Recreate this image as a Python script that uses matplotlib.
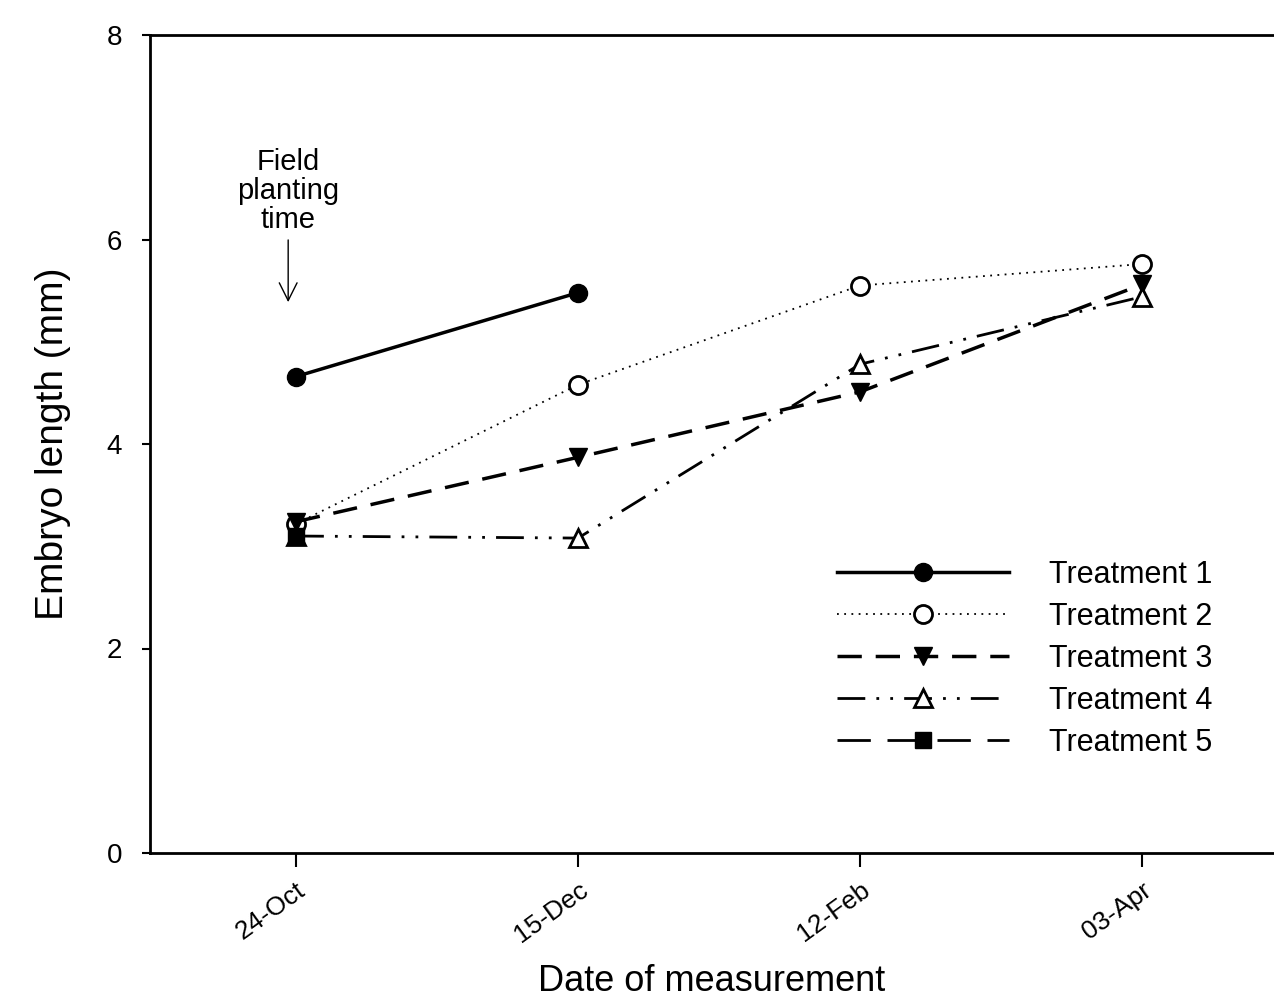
import numpy as np
import matplotlib
matplotlib.use('Agg')
import matplotlib.pyplot as plt

plt.rcParams['font.family'] = ['Liberation Sans', 'DejaVu Sans']

# measurement dates
dates = ['24-Oct', '15-Dec', '12-Feb', '03-Apr']

# embryo length (mm) per treatment
t1 = [4.66, 5.48]
t2 = [3.22, 4.58, 5.55, 5.76]
t3 = [3.24, 3.87, 4.51, 5.56]
t4 = [3.10, 3.08, 4.78, 5.44]
t5 = [3.10]

labels = ['Treatment 1', 'Treatment 2', 'Treatment 3', 'Treatment 4', 'Treatment 5']

fig = plt.figure(figsize=(12.74, 10.07), dpi=100)
ax = fig.add_axes([150/1274, 154/1007, 1124/1274, 818/1007])

ms = 13
ax.plot(range(len(t1)), t1, color='k', lw=2.5, ls='-', marker='o', ms=ms,
        mfc='k', mec='k', label=labels[0])
ax.plot(range(len(t2)), t2, color='k', lw=1.3, ls=(0, (1, 3)), marker='o', ms=ms,
        mfc='white', mec='k', mew=2, label=labels[1])
ax.plot(range(len(t3)), t3, color='k', lw=2.5, ls=(0, (7, 4)), marker='v', ms=ms,
        mfc='k', mec='k', label=labels[2])
ax.plot(range(len(t4)), t4, color='k', lw=2, ls=(0, (10, 4, 1, 4, 1, 4)), marker='^', ms=ms,
        mfc='white', mec='k', mew=2, label=labels[3])
ax.plot(range(len(t5)), t5, color='k', lw=2, ls=(0, (12, 6)), marker='s', ms=ms - 1,
        mfc='k', mec='k', label=labels[4])

ax.set_xlim(-0.518, 3.468)
ax.set_ylim(0, 8)
ax.set_xticks(range(len(dates)))
ax.set_xticklabels(dates, rotation=36, ha='right', rotation_mode='anchor', fontsize=19)
ax.set_yticks([0, 2, 4, 6, 8])
ax.tick_params(axis='y', labelsize=20, length=6, width=1.5, direction='out', pad=14)
ax.tick_params(axis='x', length=10, width=1.5, direction='out', pad=8)
for s in ['left', 'bottom', 'top']:
    ax.spines[s].set_linewidth(2)
ax.spines['right'].set_visible(False)

ax.set_ylabel('Embryo length (mm)', fontsize=28, labelpad=26)
ax.set_xlabel('Date of measurement', fontsize=26, labelpad=12)

ax.annotate('Field\nplanting\ntime', xy=(-0.028, 5.36), xytext=(-0.028, 6.05),
            ha='center', va='bottom', fontsize=21, linespacing=1.05,
            arrowprops=dict(arrowstyle='->', color='k', lw=1, mutation_scale=32))

ax.legend(loc='upper left', bbox_to_anchor=(0.6, 0.373), borderaxespad=0, frameon=False,
          numpoints=1, handlelength=5.65, handletextpad=1.3, labelspacing=0.39, fontsize=22)

fig.savefig('out.png', dpi=100)
